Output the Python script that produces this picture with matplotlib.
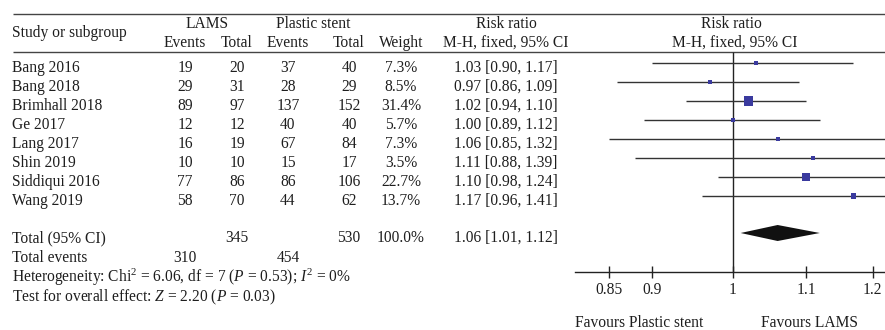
import numpy as np
import matplotlib

matplotlib.use("Agg")

import matplotlib.pyplot as plt
from matplotlib.ticker import NullLocator

plt.rcParams["font.family"] = ["Liberation Serif", "DejaVu Serif"]
plt.rcParams["mathtext.fontset"] = "custom"
plt.rcParams["mathtext.rm"] = "Liberation Serif"
plt.rcParams["mathtext.it"] = "Liberation Serif:italic"

# data
studies = ["Bang 2016", "Bang 2018", "Brimhall 2018", "Ge 2017",
           "Lang 2017", "Shin 2019", "Siddiqui 2016", "Wang 2019"]
lams_events = [19, 29, 89, 12, 16, 10, 77, 58]
lams_total = [20, 31, 97, 12, 19, 10, 86, 70]
plastic_events = [37, 28, 137, 40, 67, 15, 86, 44]
plastic_total = [40, 29, 152, 40, 84, 17, 106, 62]
weights = [7.3, 8.5, 31.4, 5.7, 7.3, 3.5, 22.7, 13.7]
rr = [1.03, 0.97, 1.02, 1.00, 1.06, 1.11, 1.10, 1.17]
ci_low = [0.90, 0.86, 0.94, 0.89, 0.85, 0.88, 0.98, 0.96]
ci_high = [1.17, 1.09, 1.10, 1.12, 1.32, 1.39, 1.24, 1.41]

total_lams, total_plastic, total_weight = 345, 530, 100.0
events_lams, events_plastic = 310, 454
pooled_rr, pooled_low, pooled_high = 1.06, 1.01, 1.12

tick_values = [0.85, 0.9, 1, 1.1, 1.2]
tick_labels = ["0.85", "0.9", "1", "1.1", "1.2"]

W, H = 885, 330
FS = 11.2
TXT = "#1e1e1e"

fig = plt.figure(figsize=(W / 100, H / 100), dpi=100)

# text layer in pixel coordinates
ax = fig.add_axes([0, 0, 1, 1])
ax.set_xlim(0, W)
ax.set_ylim(H, 0)
ax.axis("off")

x_left = 12
x_cols = [185, 237, 288, 349, 401]
x_rr = 506

ax.hlines([14, 52], 13, W, color="#444444", lw=1.0)

ax.text(x_left, 37, "Study or subgroup", fontsize=FS, color=TXT, va="baseline")
ax.text(207, 28, "LAMS", fontsize=FS, color=TXT, ha="center", va="baseline")
ax.text(313, 28, "Plastic stent", fontsize=FS, color=TXT, ha="center", va="baseline")
for x, lab in zip(x_cols, ["Events", "Total", "Events", "Total", "Weight"]):
    ax.text(x, 47, lab, fontsize=FS, color=TXT, ha="center", va="baseline")
ax.text(x_rr, 28, "Risk ratio", fontsize=FS, color=TXT, ha="center", va="baseline")
ax.text(x_rr, 47, "M-H, fixed, 95% CI", fontsize=FS, color=TXT, ha="center", va="baseline")
ax.text(731, 28, "Risk ratio", fontsize=FS, color=TXT, ha="center", va="baseline")
ax.text(735, 47, "M-H, fixed, 95% CI", fontsize=FS, color=TXT, ha="center", va="baseline")

row_y = [63 + 19 * i for i in range(len(studies))]
for i, y in enumerate(row_y):
    b = y + 9
    ax.text(x_left, b, studies[i], fontsize=FS, color=TXT, va="baseline")
    vals = [lams_events[i], lams_total[i], plastic_events[i], plastic_total[i],
            f"{weights[i]:.1f}%"]
    for x, v in zip(x_cols, vals):
        ax.text(x, b, str(v), fontsize=FS, color=TXT, ha="center", va="baseline")
    ax.text(x_rr, b, f"{rr[i]:.2f} [{ci_low[i]:.2f}, {ci_high[i]:.2f}]",
            fontsize=FS, color=TXT, ha="center", va="baseline")

total_y = 233
ax.text(x_left, total_y + 9, "Total (95% CI)", fontsize=FS, color=TXT, va="baseline")
ax.text(x_cols[1], total_y + 9, str(total_lams), fontsize=FS, color=TXT, ha="center", va="baseline")
ax.text(x_cols[3], total_y + 9, str(total_plastic), fontsize=FS, color=TXT, ha="center", va="baseline")
ax.text(x_cols[4], total_y + 9, f"{total_weight:.1f}%", fontsize=FS, color=TXT, ha="center", va="baseline")
ax.text(x_rr, total_y + 9, f"{pooled_rr:.2f} [{pooled_low:.2f}, {pooled_high:.2f}]",
        fontsize=FS, color=TXT, ha="center", va="baseline")

ax.text(x_left, 262, "Total events", fontsize=FS, color=TXT, va="baseline")
ax.text(x_cols[0], 262, str(events_lams), fontsize=FS, color=TXT, ha="center", va="baseline")
ax.text(x_cols[2], 262, str(events_plastic), fontsize=FS, color=TXT, ha="center", va="baseline")
ax.text(x_left, 282,
        r"Heterogeneity: Chi$^{2}$ = 6.06, df = 7 ($P$ = 0.53); $I^{2}$ = 0%",
        fontsize=FS, color=TXT, va="baseline")
ax.text(x_left, 301, r"Test for overall effect: $Z$ = 2.20 ($P$ = 0.03)",
        fontsize=FS, color=TXT, va="baseline")

# forest part, log scale
axf = fig.add_axes([575 / W, 0, (W - 575) / W, 1])
axf.patch.set_visible(False)
axf.set_xscale("log")
axf.set_xlim(0.8136, 1.2195)
axf.set_ylim(H, 0)
for s in ["top", "left", "right"]:
    axf.spines[s].set_visible(False)
axf.spines["bottom"].set_position(("data", 272))
axf.spines["bottom"].set_color("#222222")
axf.spines["bottom"].set_linewidth(1.0)
axf.set_yticks([])
axf.set_xticks(tick_values, labels=tick_labels)
axf.xaxis.set_minor_locator(NullLocator())
axf.tick_params(axis="x", direction="inout", length=8, width=1.0, color="#222222",
                pad=3, labelsize=FS, labelcolor=TXT)

axf.vlines(1, 52, 272, color="#222222", lw=1.0)
axf.hlines(row_y, ci_low, ci_high, color="#333333", lw=1.0)
side_px = [max(3.8, 2.4 + 0.22 * w) for w in weights]
sizes = [(s * 72 / 100) ** 2 for s in side_px]
axf.scatter(rr, row_y, s=sizes, marker="s", color="#3a3a9e", linewidths=0, zorder=3)

axf.fill([pooled_low, pooled_rr, pooled_high, pooled_rr],
         [total_y, total_y - 8, total_y, total_y + 8], color="#111111", lw=0)

axf.text(0.885, 327, "Favours Plastic stent", fontsize=FS, color=TXT, ha="center", va="baseline")
axf.text(1.105, 327, "Favours LAMS", fontsize=FS, color=TXT, ha="center", va="baseline")

fig.savefig("out.png", dpi=100)
